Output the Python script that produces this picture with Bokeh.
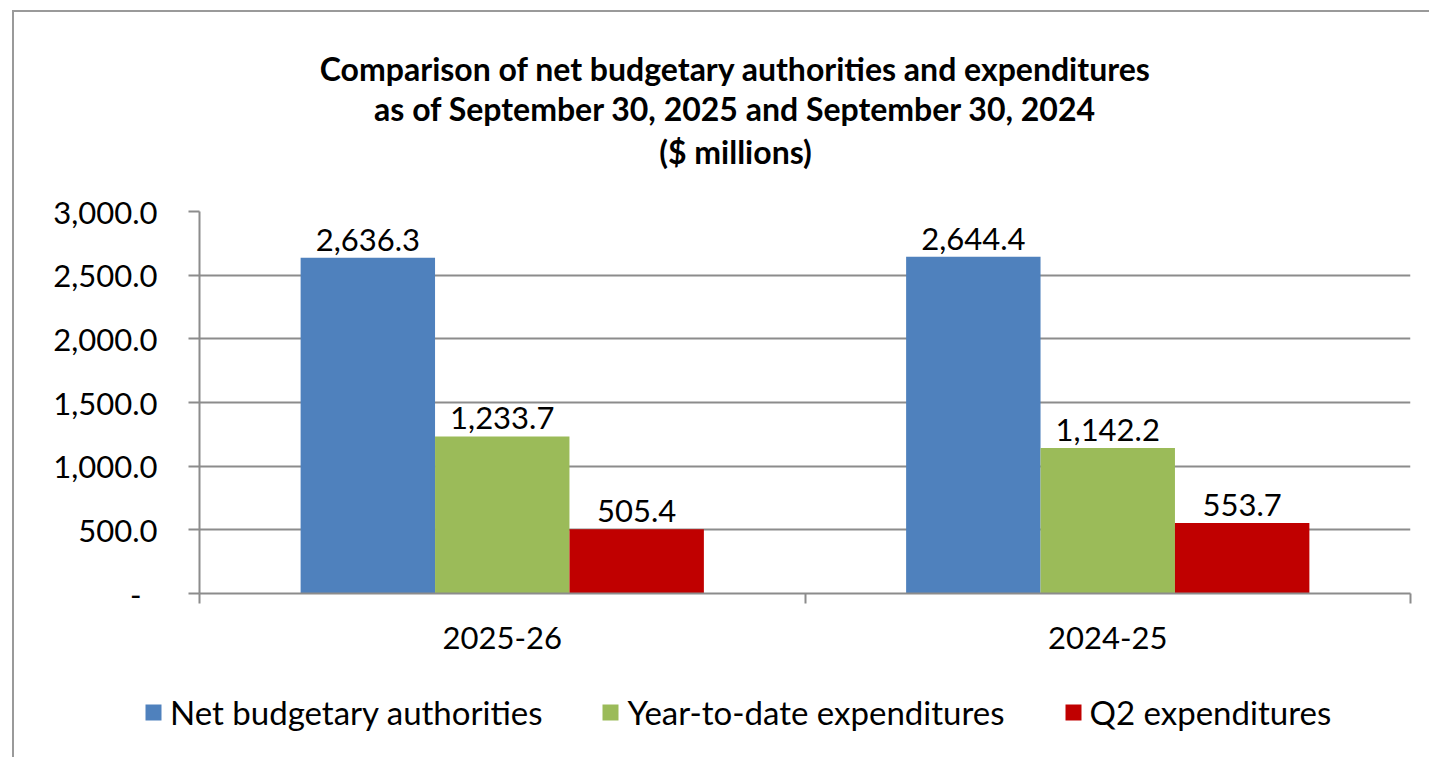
from bokeh.plotting import figure
from bokeh.layouts import column
from bokeh.models import (ColumnDataSource, Range1d, LinearAxis,
                          FixedTicker, NumeralTickFormatter, LabelSet, Label, Legend, LegendItem)
from bokeh.core.properties import value
from bokeh.transform import dodge
from bokeh.embed import file_html
from bokeh.resources import INLINE

# ---- data ----
years = ["2025-26", "2024-25"]
net_authorities = [2636.3, 2644.4]
ytd_expenditures = [1233.7, 1142.2]
q2_expenditures = [505.4, 553.7]
series_names = ["Net budgetary authorities", "Year-to-date expenditures", "Q2 expenditures"]
series_colors = ["#4F81BD", "#9BBB59", "#C00000"]
title_lines = ["Comparison of net budgetary authorities and expenditures",
               "as of September 30, 2025 and September 30, 2024",
               "($ millions)"]
y_ticks = [0, 500, 1000, 1500, 2000, 2500, 3000]

FONT = "Lato"
FS = "31px"
GRID = "#8c8c8c"
WIDTH = 1415

centers = [i + 0.5 for i in range(len(years))]
boundaries = list(range(len(years) + 1))

src = ColumnDataSource(dict(
    xc=centers,
    net=net_authorities, ytd=ytd_expenditures, q2=q2_expenditures,
    net_lbl=[f"{v:,.1f}" for v in net_authorities],
    ytd_lbl=[f"{v:,.1f}" for v in ytd_expenditures],
    q2_lbl=[f"{v:,.1f}" for v in q2_expenditures],
))

# ---------------- title figure ----------------
tf = figure(width=WIDTH, height=169, output_backend="svg", toolbar_location=None,
            x_range=Range1d(0, 1), y_range=Range1d(0, 1),
            x_axis_location=None, y_axis_location=None, min_border=0)
tf.outline_line_color = None
tf.grid.grid_line_color = None
title_y = [113, 73, 30]
for txt, ty in zip(title_lines, title_y):
    tf.add_layout(Label(x=536, y=ty, x_units="screen", y_units="screen", text=txt,
                        text_align="center", text_baseline="middle",
                        text_font=FONT, text_font_style="bold", text_font_size="32px",
                        text_color="black"))

# ---------------- main figure ----------------
p = figure(x_range=Range1d(0, len(years)), y_range=Range1d(0, 3000),
           width=WIDTH, height=487, output_backend="svg", toolbar_location=None,
           x_axis_location=None, y_axis_location="left",
           min_border_left=185, min_border_right=19, min_border_top=30, min_border_bottom=75)
p.outline_line_color = None

ya = p.yaxis[0]
ya.ticker = FixedTicker(ticks=y_ticks)
ya.formatter = NumeralTickFormatter(format="0,0.0")
ya.major_label_overrides = {0: "-\u00a0\u00a0"}
ya.major_tick_out = 11
ya.major_tick_in = 0
ya.minor_tick_line_color = None
ya.axis_line_color = GRID
ya.axis_line_width = 2
ya.major_tick_line_color = GRID
ya.major_tick_line_width = 2
ya.major_label_standoff = 31
ya.major_label_text_font = FONT
ya.major_label_text_font_size = FS
ya.major_label_text_color = "black"

p.ygrid.ticker = FixedTicker(ticks=y_ticks)
p.ygrid.grid_line_color = GRID
p.ygrid.grid_line_width = 2
p.xgrid.grid_line_color = None

xa = LinearAxis(ticker=FixedTicker(ticks=centers, minor_ticks=boundaries))
xa.major_label_overrides = {c: y for c, y in zip(centers, years)}
xa.axis_line_color = GRID
xa.axis_line_width = 2
xa.major_tick_line_color = None
xa.major_tick_out = 0
xa.major_tick_in = 0
xa.minor_tick_line_color = GRID
xa.minor_tick_line_width = 2
xa.minor_tick_out = 10
xa.minor_tick_in = 0
xa.major_label_standoff = 23
xa.major_label_text_font = FONT
xa.major_label_text_font_size = FS
xa.major_label_text_color = "black"
p.add_layout(xa, "below")

W = 0.222
offsets = [-W, 0.0, W]
cols = ["net", "ytd", "q2"]
for col, off, color in zip(cols, offsets, series_colors):
    p.vbar(x=dodge("xc", off), top=col, width=W, source=src,
           fill_color=color, line_color=None)
    p.add_layout(LabelSet(x=dodge("xc", off), y=col, text=col + "_lbl", source=src,
                          text_align="center", text_baseline="bottom", y_offset=7,
                          text_font=value(FONT), text_font_size=value(FS), text_color="black"))

# ---------------- legend figure (frame not aligned to the main plot) ----------------
lf = figure(width=WIDTH, height=89, output_backend="svg", toolbar_location=None,
            x_range=Range1d(0, 1), y_range=Range1d(0, 1),
            x_axis_location=None, y_axis_location=None, min_border=0, frame_align=False)
lf.outline_line_color = None
lf.grid.grid_line_color = None
# legend swatch proxies, placed outside the visible range
proxy = ColumnDataSource(dict(x=[-10.0], top=[0.0]))
leg_renderers = [lf.vbar(x="x", top="top", width=0.1, source=proxy, fill_color=c, line_color=None)
                 for c in series_colors]
legend = Legend(items=[LegendItem(label=n, renderers=[r]) for n, r in zip(series_names, leg_renderers)],
                orientation="horizontal", location=(129, 25),
                glyph_width=20, glyph_height=20, label_standoff=7, spacing=58,
                padding=0, margin=0, border_line_color=None, background_fill_alpha=0,
                label_text_font=FONT, label_text_font_size="33px", label_text_color="black")
lf.add_layout(legend, "center")

layout = column(tf, p, lf, spacing=0, margin=(10, 0, 0, 12),
                styles={"border-left": "2px solid #9a9a9a", "border-top": "2px solid #9a9a9a"})

open("out.html", "w").write(file_html(layout, INLINE))
